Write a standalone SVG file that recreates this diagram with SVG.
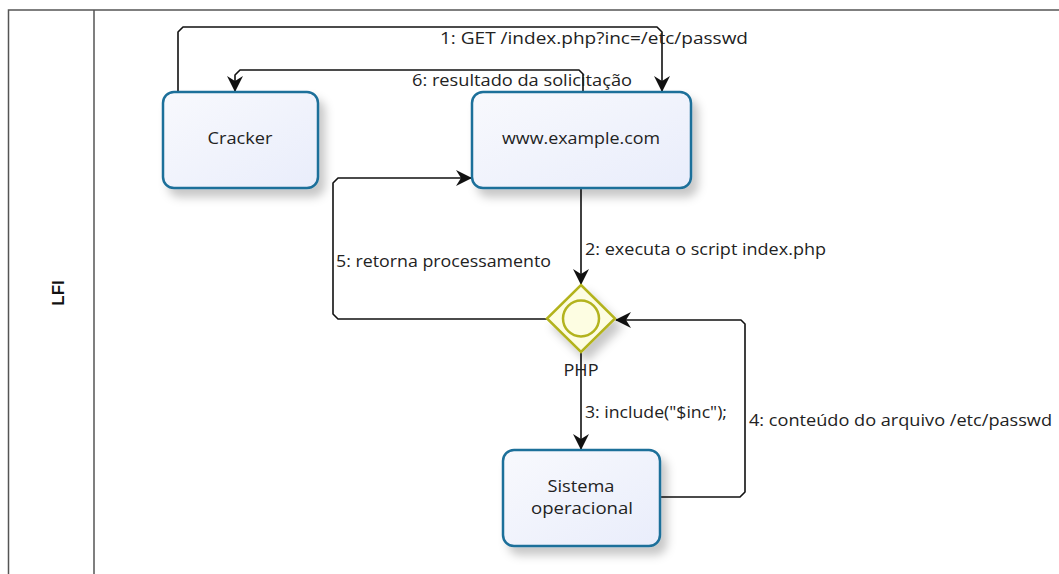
<svg xmlns="http://www.w3.org/2000/svg" width="1059" height="574" viewBox="0 0 1059 574">
<style>
.lane{fill:#fff;stroke:#555;stroke-width:1.5}
.task{fill:url(#tg);stroke:#1f6f9a;stroke-width:2.5}
.lbl{font-family:"Open Sans","Noto Sans",sans-serif;font-size:16px;fill:#222}
.ntxt{font-family:"Open Sans","Noto Sans",sans-serif;font-size:16.5px;fill:#222;text-anchor:middle}
.conn{fill:none;stroke:#111;stroke-width:1.6;stroke-linejoin:round}
</style>
<defs>
<linearGradient id="tg" x1="0" y1="0" x2="1" y2="1">
<stop offset="0" stop-color="#f8f9fd"/>
<stop offset="1" stop-color="#e9edfb"/>
</linearGradient>
<filter id="sh" x="-20%" y="-20%" width="150%" height="160%">
<feDropShadow dx="6" dy="8" stdDeviation="5" flood-color="#000" flood-opacity="0.22"/>
</filter>
<marker id="ah" viewBox="0 0 16 16" refX="15" refY="8" markerWidth="16" markerHeight="16" markerUnits="userSpaceOnUse" orient="auto">
<path d="M0,0 L16,8 L0,16 L5,8 Z" fill="#111"/>
</marker>
</defs>
<rect width="1059" height="574" fill="#fff"/>
<g id="lane">
<path class="lane" d="M1062,10 H8.5 V580"/>
<line x1="94" y1="10" x2="94" y2="580" stroke="#555" stroke-width="1.5"/>
<text x="58" y="293" transform="rotate(-90 58 293)" font-family="Liberation Sans,Arial,sans-serif" font-weight="bold" font-size="17" text-anchor="middle" dominant-baseline="central" fill="#111">LFI</text>
</g>
<g id="connectors">
<path class="conn" d="M178,92 V32 L183,27 H657 L662,32 V91" marker-end="url(#ah)"/>
<path class="conn" d="M583,92 V74 L579,70 H240 L235,75 V91" marker-end="url(#ah)"/>
<path class="conn" d="M581,188 V284" marker-end="url(#ah)"/>
<path class="conn" d="M547,319 H338 L333,314 V183 L338,178 H471" marker-end="url(#ah)"/>
<path class="conn" d="M581,352 V449" marker-end="url(#ah)"/>
<path class="conn" d="M660,497 H740 L745,492 V324 L741,320 H616" marker-end="url(#ah)"/>
<text class="lbl" x="440" y="44" textLength="308" lengthAdjust="spacingAndGlyphs">1: GET /index.php?inc=/etc/passwd</text>
<text class="lbl" x="412" y="86" textLength="220" lengthAdjust="spacingAndGlyphs">6: resultado da solicitação</text>
<text class="lbl" x="585" y="255" textLength="241" lengthAdjust="spacingAndGlyphs">2: executa o script index.php</text>
<text class="lbl" x="336" y="267" textLength="215" lengthAdjust="spacingAndGlyphs">5: retorna processamento</text>
<text class="lbl" x="585" y="418" textLength="142" lengthAdjust="spacingAndGlyphs">3: include("$inc");</text>
<text class="lbl" x="749" y="426" textLength="303" lengthAdjust="spacingAndGlyphs">4: conteúdo do arquivo /etc/passwd</text>
</g>
<g id="cracker">
<rect class="task" x="163" y="92" width="155" height="96" rx="11" filter="url(#sh)"/>
<text class="ntxt" x="240" y="144" textLength="65" lengthAdjust="spacingAndGlyphs">Cracker</text>
</g>
<g id="server">
<rect class="task" x="472" y="92" width="219" height="96" rx="11" filter="url(#sh)"/>
<text class="ntxt" x="581" y="144" textLength="158" lengthAdjust="spacingAndGlyphs">www.example.com</text>
</g>
<g id="php">
<path d="M581,285 L615,318.5 L581,352 L547,318.5 Z" fill="#fdfde2" stroke="#b3b31e" stroke-width="2.5" filter="url(#sh)"/>
<circle cx="581" cy="318.5" r="18" fill="#fdfde2" stroke="#b3b31e" stroke-width="2.5"/>
<text class="ntxt" x="581" y="376" textLength="35" lengthAdjust="spacingAndGlyphs">PHP</text>
</g>
<g id="so">
<rect class="task" x="503" y="450" width="157" height="96" rx="11" filter="url(#sh)"/>
<text class="ntxt" x="581" y="492" textLength="67" lengthAdjust="spacingAndGlyphs">Sistema</text>
<text class="ntxt" x="582" y="514" textLength="102" lengthAdjust="spacingAndGlyphs">operacional</text>
</g>
</svg>
